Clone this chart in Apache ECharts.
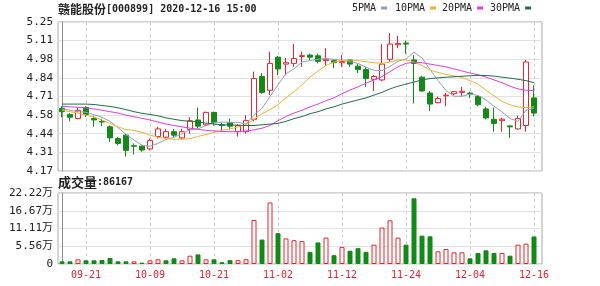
<!DOCTYPE html>
<html><head><meta charset="utf-8">
<script src="https://cdn.jsdelivr.net/npm/echarts@6/dist/echarts.min.js"></script>
<style>html,body{margin:0;padding:0;background:#fff}#c{width:600px;height:286px}</style>
</head><body><div id="c"></div>
<script>
const stockName = '赣能股份';
const stockInfo = '[000899] 2020-12-16 15:00';
const volTitle = '成交量';
const dates = ['09-16','09-17','09-18','09-21','09-22','09-23','09-24','09-25','09-28','09-29',
 '09-30','10-09','10-12','10-13','10-14','10-15','10-16','10-19','10-20','10-21',
 '10-22','10-23','10-26','10-27','10-28','10-29','10-30','11-02','11-03','11-04',
 '11-05','11-06','11-09','11-10','11-11','11-12','11-13','11-16','11-17','11-18',
 '11-19','11-20','11-23','11-24','11-25','11-26','11-27','11-30','12-01','12-02',
 '12-03','12-04','12-07','12-08','12-09','12-10','12-11','12-14','12-15','12-16'];
const opens = [4.625,4.58,4.55,4.63,4.55,4.53,4.49,4.405,4.43,4.353,
 4.35,4.33,4.42,4.415,4.455,4.41,4.47,4.54,4.505,4.595,
 4.505,4.52,4.455,4.455,4.545,4.855,4.755,4.995,4.945,4.95,
 5.00,5.01,5.005,4.97,4.97,4.955,4.975,4.93,4.905,4.835,
 4.83,4.98,5.085,5.097,4.975,4.85,4.735,4.665,4.715,4.73,
 4.74,4.735,4.71,4.62,4.545,4.535,4.497,4.475,4.50,4.70];
const closes = [4.60,4.56,4.61,4.58,4.54,4.525,4.41,4.37,4.32,4.35,
 4.322,4.39,4.475,4.455,4.43,4.455,4.535,4.495,4.595,4.52,
 4.50,4.495,4.50,4.535,4.84,4.74,4.95,4.91,4.955,4.985,
 5.006,4.995,4.965,4.98,4.955,4.963,4.945,4.905,4.84,4.855,
 4.945,5.09,5.095,5.09,4.95,4.75,4.655,4.695,4.72,4.745,
 4.748,4.73,4.65,4.555,4.515,4.545,4.49,4.55,4.96,4.59];
const lows = [4.56,4.53,4.545,4.56,4.49,4.495,4.38,4.355,4.275,4.29,
 4.31,4.32,4.405,4.405,4.416,4.40,4.44,4.48,4.495,4.50,
 4.455,4.47,4.42,4.44,4.53,4.73,4.72,4.865,4.865,4.925,
 4.925,4.975,4.95,4.93,4.915,4.925,4.926,4.88,4.78,4.75,
 4.82,4.96,5.06,5.02,4.66,4.745,4.605,4.66,4.64,4.72,
 4.71,4.70,4.64,4.545,4.455,4.455,4.41,4.47,4.455,4.565];
const highs = [4.64,4.59,4.63,4.64,4.57,4.55,4.50,4.415,4.44,4.37,
 4.36,4.405,4.49,4.476,4.475,4.476,4.56,4.63,4.60,4.60,
 4.52,4.55,4.51,4.575,4.89,4.88,5.035,5.005,4.99,5.09,
 5.035,5.02,5.02,5.06,4.98,5.01,4.98,4.945,4.925,4.865,
 5.09,5.17,5.15,5.115,5.01,4.86,4.75,4.71,4.735,4.75,
 4.78,4.745,4.72,4.635,4.63,4.555,4.50,4.57,4.975,4.79];
const volumes = [8300,8300,14600,11500,11500,12500,18800,8300,8300,8300,
 4200,11500,14600,11500,17700,11500,26000,30000,14600,14600,
 5500,12000,12000,15000,137700,76500,192500,96500,80000,74500,
 71500,38000,67500,82500,27500,53500,41500,49500,38000,60500,
 114000,136600,82400,60500,205500,88700,86600,39600,47000,36500,
 36500,17700,34400,42800,34400,34400,26000,60500,63600,86167];
const ma5 = [4.62,4.61,4.60,4.595,4.578,4.56,4.53,4.485,4.435,4.395,
 4.355,4.35,4.37,4.398,4.415,4.44,4.47,4.475,4.50,4.52,
 4.525,4.523,4.523,4.51,4.575,4.625,4.71,4.795,4.875,4.91,
 4.96,4.97,4.98,4.985,4.98,4.972,4.962,4.95,4.922,4.90,
 4.898,4.927,4.965,4.983,5.03,4.99,4.905,4.825,4.753,4.712,
 4.712,4.727,4.718,4.685,4.64,4.598,4.55,4.53,4.61,4.626];
const ma10 = [4.61,4.60,4.59,4.575,4.56,4.54,4.515,4.49,4.47,4.465,
 4.45,4.43,4.415,4.405,4.40,4.40,4.405,4.42,4.435,4.45,
 4.465,4.475,4.49,4.505,4.545,4.585,4.615,4.65,4.70,4.745,
 4.795,4.85,4.895,4.935,4.96,4.97,4.975,4.97,4.962,4.955,
 4.95,4.96,4.975,4.975,4.96,4.935,4.90,4.885,4.87,4.86,
 4.848,4.825,4.80,4.755,4.715,4.675,4.65,4.635,4.63,4.635];
const ma20 = [4.64,4.635,4.632,4.628,4.62,4.61,4.60,4.59,4.575,4.563,
 4.552,4.54,4.525,4.51,4.50,4.49,4.48,4.472,4.465,4.46,
 4.457,4.455,4.455,4.46,4.468,4.48,4.50,4.535,4.565,4.59,
 4.61,4.635,4.655,4.68,4.70,4.73,4.757,4.78,4.806,4.83,
 4.855,4.89,4.925,4.95,4.958,4.955,4.945,4.935,4.925,4.91,
 4.895,4.88,4.868,4.85,4.83,4.81,4.785,4.765,4.755,4.755];
const ma30 = [4.655,4.655,4.655,4.655,4.652,4.645,4.638,4.628,4.615,4.60,
 4.588,4.58,4.57,4.555,4.545,4.535,4.53,4.525,4.517,4.51,
 4.505,4.503,4.502,4.50,4.50,4.505,4.51,4.515,4.53,4.55,
 4.565,4.585,4.60,4.62,4.635,4.655,4.67,4.685,4.70,4.72,
 4.74,4.765,4.785,4.80,4.815,4.83,4.84,4.845,4.85,4.853,
 4.857,4.86,4.863,4.862,4.858,4.85,4.843,4.835,4.825,4.81];
const maNames = ['5PMA','10PMA','20PMA','30PMA'];
const priceTicks = [4.17,4.305,4.44,4.575,4.71,4.845,4.98,5.115,5.25];
const priceTickLabels = ['4.17','4.31','4.44','4.58','4.71','4.84','4.98','5.11','5.25'];
const volTicks = [0,55550,111100,166650,222200];
const volTickLabels = ['0','5.56万','11.11万','16.67万','22.22万'];
const dateTickIdx = [3,11,19,27,35,43,51,59];

const RED = '#e8232b', GREEN = '#138a18';
const MA_COLORS = ['#8fa0b8','#f2b233','#e03de0','#1f6e4c'];
const LEGEND_LEFT = [352, 395, 442, 490];
const N = dates.length;
function pick(ticks, labels, v) {
  let k = 0, best = Infinity;
  ticks.forEach((t, j) => { const d = Math.abs(t - v); if (d < best) { best = d; k = j; } });
  return labels[k];
}
const mono = 'DejaVu Sans Mono';
const maData = [ma5, ma10, ma20, ma30];
const chart = echarts.init(document.getElementById('c'));
const option = {
  animation: false,
  backgroundColor: '#fff',
  title: [
    { left: 58, top: 3, padding: 0, text: '{a|' + stockName + '}{b|' + stockInfo + '}',
      textStyle: { rich: { a: { fontFamily: 'Noto Sans CJK SC', fontSize: 12, color: '#222' },
                           b: { fontFamily: mono, fontSize: 10, color: '#222' } } } },
    { left: 58, top: 176, padding: 0, text: '{a|' + volTitle + '}{b|:' + volumes[N - 1] + '}',
      textStyle: { rich: { a: { fontFamily: 'Noto Sans CJK SC', fontSize: 13, color: '#222' },
                           b: { fontFamily: mono, fontSize: 10, color: '#222' } } } }
  ],
  legend: maNames.map((n, k) => ({
    data: [n], left: LEGEND_LEFT[k], top: 3, padding: 0, align: 'right', icon: 'rect',
    itemWidth: 6, itemHeight: 3, selectedMode: false,
    textStyle: { fontFamily: mono, fontSize: 10, color: '#222' }
  })),
  grid: [
    { left: 58, top: 22, width: 484, height: 149, show: true, borderColor: '#a8a8a8', borderWidth: 1 },
    { left: 58, top: 193, width: 484, height: 71, show: true, borderColor: '#a8a8a8', borderWidth: 1 }
  ],
  xAxis: [0, 1].map(g => ({
    type: 'value', gridIndex: g, min: -0.5, max: N,
    axisLine: { show: false },
    axisTick: { show: false, customValues: dateTickIdx },
    axisLabel: g === 1 ? { show: true, customValues: dateTickIdx, formatter: v => dates[Math.round(v)],
      color: RED, fontFamily: mono, fontSize: 10, margin: 6 } : { show: false },
    splitLine: { show: true, lineStyle: { color: '#cfcfcf', type: [3, 3], width: 1 } }
  })),
  yAxis: [
    { type: 'value', gridIndex: 0, min: 4.17, max: 5.25,
      axisLine: { show: true, lineStyle: { color: '#909090' } },
      axisTick: { show: false, customValues: priceTicks },
      axisLabel: { customValues: priceTicks, formatter: v => pick(priceTicks, priceTickLabels, v),
        fontFamily: mono, fontSize: 11, color: '#222', margin: 5 },
      splitLine: { show: true, lineStyle: { color: '#e2e2e2' } } },
    { type: 'value', gridIndex: 1, min: 0, max: 222200,
      axisLine: { show: true, lineStyle: { color: '#909090' } },
      axisTick: { show: false, customValues: volTicks },
      axisLabel: { customValues: volTicks, formatter: v => pick(volTicks, volTickLabels, v),
        fontFamily: mono + ', Noto Sans CJK SC', fontSize: 11, color: '#222', margin: 5 },
      splitLine: { show: true, lineStyle: { color: '#e2e2e2' } } }
  ],
  series: [
    { type: 'candlestick', xAxisIndex: 0, yAxisIndex: 0, barWidth: 5, z: 2,
      data: dates.map((d, i) => [i, opens[i], closes[i], lows[i], highs[i]]),
      itemStyle: { color: '#fff', color0: GREEN, borderColor: RED, borderColor0: GREEN, borderWidth: 1 } },
    ...maNames.map((n, k) => ({
      type: 'line', name: n, xAxisIndex: 0, yAxisIndex: 0, z: 3, silent: true,
      showSymbol: false, symbol: 'none',
      data: maData[k].map((v, i) => [i, v]),
      lineStyle: { width: 1, color: MA_COLORS[k] }, itemStyle: { color: MA_COLORS[k] }
    })),
    { type: 'bar', xAxisIndex: 1, yAxisIndex: 1, barWidth: 5,
      data: volumes.map((v, i) => {
        const up = i === 0 ? closes[0] >= opens[0] : closes[i] >= closes[i - 1];
        return { value: [i, v], itemStyle: up ? { color: '#fff', borderColor: RED, borderWidth: 1 }
                                               : { color: GREEN, borderColor: GREEN, borderWidth: 1 } };
      }) }
  ]
};
chart.setOption(option);
</script></body></html>
